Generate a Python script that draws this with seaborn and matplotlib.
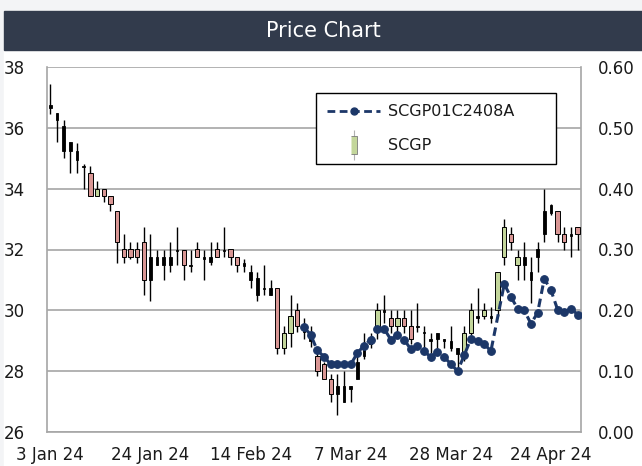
import numpy as np
import pandas as pd
import seaborn as sns
import matplotlib.pyplot as plt
from matplotlib.patches import Rectangle
from matplotlib.lines import Line2D
from matplotlib.legend_handler import HandlerTuple

# SCGP daily candles (trading days 3 Jan 24 - 30 Apr 24)
opens = [36.75, 36.5, 36.05, 35.55, 35.25, 34.75, 34.5, 33.75, 34.0, 33.75,
         33.25, 32.0, 32.0, 32.0, 32.25, 31.75, 31.75, 31.75, 31.75, 32.0,
         32.0, 31.5, 32.0, 31.75, 31.75, 32.0, 32.0, 32.0, 31.75, 31.55,
         31.25, 31.05, 30.75, 30.75, 30.75, 28.75, 29.25, 30.0, 29.45, 29.2,
         28.5, 28.25, 27.75, 27.5, 27.5, 27.5, 27.75, 28.5, 28.9, 29.5,
         30.0, 29.75, 29.5, 29.75, 29.5, 29.5, 29.3, 29.05, 29.25, 29.05,
         29.0, 28.75, 28.55, 29.25, 29.8, 29.8, 29.8, 30.0, 31.75, 32.5,
         31.5, 31.75, 31.25, 31.75, 32.5, 33.45, 33.25, 32.5, 32.5, 32.75]
highs = [37.45, 36.5, 36.25, 35.55, 35.5, 34.8, 34.75, 34.25, 34.0, 33.75,
         33.25, 32.5, 32.25, 32.25, 32.75, 32.5, 32.0, 32.0, 32.25, 32.75,
         32.0, 32.0, 32.25, 32.0, 32.25, 32.25, 32.75, 32.0, 31.75, 31.7,
         31.5, 31.25, 31.5, 31.0, 30.75, 29.5, 30.5, 30.25, 29.75, 29.5,
         28.7, 28.3, 27.9, 27.9, 28.0, 27.5, 28.5, 29.25, 29.25, 30.25,
         30.5, 30.0, 30.0, 30.0, 30.0, 30.25, 29.5, 29.25, 29.25, 29.05,
         29.5, 28.75, 29.5, 30.25, 30.75, 30.25, 30.1, 31.25, 33.0, 32.75,
         32.0, 32.25, 31.75, 32.25, 34.0, 33.5, 33.25, 32.75, 32.75, 32.75]
lows = [36.45, 35.55, 35.0, 34.5, 34.5, 34.0, 33.75, 33.75, 33.55, 33.25,
        31.55, 31.55, 31.7, 31.55, 30.5, 30.3, 31.5, 31.0, 31.25, 31.5,
        31.0, 31.25, 31.75, 31.0, 31.5, 31.75, 31.75, 31.5, 31.25, 31.25,
        30.75, 30.3, 30.5, 30.5, 28.55, 28.55, 28.8, 29.3, 29.05, 28.8,
        27.85, 27.75, 27.0, 26.55, 27.0, 27.0, 27.75, 28.4, 28.75, 29.05,
        29.6, 29.25, 29.3, 29.25, 28.9, 29.3, 28.75, 28.6, 28.7, 28.75,
        28.65, 28.1, 28.35, 29.2, 29.6, 29.7, 29.6, 29.8, 31.5, 32.0,
        31.0, 31.0, 30.25, 31.25, 32.25, 33.15, 32.25, 32.0, 31.75, 32.0]
closes = [36.65, 36.25, 35.25, 35.25, 34.95, 34.7, 33.75, 34.0, 33.75, 33.5,
          32.25, 31.75, 31.75, 31.75, 31.0, 31.0, 31.5, 31.5, 31.5, 31.95,
          31.5, 31.45, 31.75, 31.7, 31.6, 31.75, 31.95, 31.75, 31.5, 31.45,
          31.0, 30.5, 30.7, 30.5, 28.75, 29.25, 29.8, 29.5, 29.3, 29.0,
          28.0, 27.75, 27.25, 27.25, 27.0, 27.4, 28.3, 28.75, 29.0, 30.0,
          29.95, 29.5, 29.75, 29.5, 29.05, 29.45, 29.25, 29.0, 29.05, 29.0,
          28.75, 28.55, 29.25, 30.0, 29.75, 30.0, 29.75, 31.25, 32.75, 32.25,
          31.75, 31.5, 31.0, 32.0, 33.25, 33.2, 32.5, 32.25, 32.45, 32.5]
# days whose bodies render as solid dark bars in the source
dark_days = [0, 1, 2, 3, 4, 5, 15, 16, 17, 18, 19, 21, 23, 24, 26, 29, 30, 31,
             32, 33, 38, 39, 43, 44, 45, 46, 47, 48, 50, 55, 56, 57, 58, 59,
             60, 61, 64, 66, 71, 72, 73, 74, 75, 78]

# SCGP01C2408A (right axis), starts on trading day 38
warrant_start = 38
warrant = [0.172, 0.160, 0.134, 0.124, 0.111, 0.111, 0.111, 0.111, 0.130, 0.142,
           0.152, 0.170, 0.170, 0.152, 0.160, 0.152, 0.136, 0.142, 0.133, 0.123,
           0.132, 0.123, 0.112, 0.100, 0.126, 0.153, 0.149, 0.145, 0.133, np.nan,
           0.243, 0.222, 0.203, 0.200, 0.178, 0.196, 0.252, 0.233, 0.201, 0.197,
           0.203, 0.193]

tick_labels = ["3 Jan 24", "24 Jan 24", "14 Feb 24", "7 Mar 24", "28 Mar 24", "24 Apr 24"]
tick_step = 15

sns.set_style("white")
plt.rcParams['font.family'] = ['DejaVu Sans']

navy = '#1c3768'
up_col = '#c3d69b'
down_col = '#d99694'
grid_col = '#a6a6a6'

fig = plt.figure(figsize=(6.42, 4.66), dpi=100, facecolor='#f3f4f6')
fig.patches.append(Rectangle((4 / 642, 0), 1 - 4 / 642, 1 - 11 / 466,
                             transform=fig.transFigure, color='white', zorder=-10))
fig.patches.append(Rectangle((4 / 642, 1 - 50 / 466), 1 - 4 / 642, 39 / 466,
                             transform=fig.transFigure, color='#323b4c', zorder=-5))
fig.text(0.503, 1 - 31 / 466, "Price Chart", color='white', fontsize=15,
         ha='center', va='center')

ax = fig.add_axes([47 / 642, 1 - 432 / 466, 534 / 642, 365 / 466])
ax.set_facecolor('white')

df = pd.DataFrame({'open': opens, 'high': highs, 'low': lows, 'close': closes})
df['day'] = np.arange(len(df))
df['dark'] = df['day'].isin(dark_days)

ax.vlines(df['day'], df['low'], df['high'], color='black', lw=1.0, zorder=2)
bottoms = df[['open', 'close']].min(axis=1)
heights = (df['close'] - df['open']).abs().clip(lower=0.04)
light = ~df['dark']
colors = np.where(df['close'] >= df['open'], up_col, down_col)
ax.bar(df['day'][light], heights[light], bottom=bottoms[light], width=0.65,
       color=colors[light.values], edgecolor='black', linewidth=0.7, zorder=3)
ax.bar(df['day'][df['dark']], heights[df['dark']], bottom=bottoms[df['dark']],
       width=0.4, color='black', edgecolor='black', linewidth=0.6, zorder=3)

ax.set_xlim(-0.5, len(df) - 0.5)
ax.set_ylim(26, 38)
ax.set_yticks(np.arange(26, 39, 2))
ax.set_xticks(np.arange(0, len(df), tick_step)[:len(tick_labels)])
ax.set_xticklabels(tick_labels)
ax.yaxis.grid(True, color=grid_col, lw=1.2, zorder=0)
ax.set_axisbelow(True)
ax.tick_params(axis='y', length=0, pad=16, labelsize=12, colors='#1a1a1a')
ax.tick_params(axis='x', length=0, pad=10, labelsize=12, colors='#1a1a1a')
for s in ['left', 'right', 'bottom']:
    ax.spines[s].set_color(grid_col)
    ax.spines[s].set_linewidth(1.2)
ax.spines['top'].set_visible(False)

ax2 = ax.twinx()
wdf = pd.DataFrame({'day': np.arange(warrant_start, warrant_start + len(warrant)),
                    'price': warrant}).dropna()
sns.lineplot(data=wdf, x='day', y='price', ax=ax2, color=navy, lw=2.2,
             linestyle=(0, (2.8, 1.6)), marker='o', markersize=5.5,
             markeredgecolor=navy, markeredgewidth=0.8, zorder=5)
ax2.set_ylim(0, 0.6)
ax2.set_yticks(np.arange(0, 0.61, 0.1))
ax2.set_yticklabels([f"{v:.2f}" for v in np.arange(0, 0.61, 0.1)])
ax2.set_ylabel('')
ax2.set_xlabel('')
ax.set_xlabel('')
ax2.tick_params(axis='y', length=0, pad=12, labelsize=12, colors='#1a1a1a')
for s in ['left', 'right', 'bottom', 'top']:
    ax2.spines[s].set_visible(False)

h_line = Line2D([], [], color=navy, lw=2.0, linestyle=(0, (2.8, 1.6)),
                marker='o', markersize=5, markeredgecolor=navy)
h_wick = Line2D([], [], color='#b0b0b0', marker='|', markersize=22,
                linestyle='none', markeredgewidth=0.8)
h_body = Line2D([], [], color=up_col, linestyle='none',
                marker=[(-0.8, -2.6), (0.8, -2.6), (0.8, 2.6), (-0.8, 2.6)],
                markersize=13, markeredgecolor='#7a7a7a', markeredgewidth=0.6)
leg = ax2.legend([h_line, (h_wick, h_body)], ["SCGP01C2408A", "SCGP"],
                 handler_map={tuple: HandlerTuple(ndivide=1)},
                 loc='upper left', bbox_to_anchor=(0.504, 0.729, 0.449, 0.2),
                 mode='expand', borderaxespad=0, fontsize=11.5,
                 handlelength=3.3, handletextpad=0.5, labelspacing=1.2,
                 borderpad=0.7, fancybox=False, framealpha=1,
                 edgecolor='black')
leg.get_frame().set_linewidth(1.0)
for t in leg.get_texts():
    t.set_color('#1a1a1a')

fig.savefig('out.png', dpi=100, facecolor=fig.get_facecolor())
